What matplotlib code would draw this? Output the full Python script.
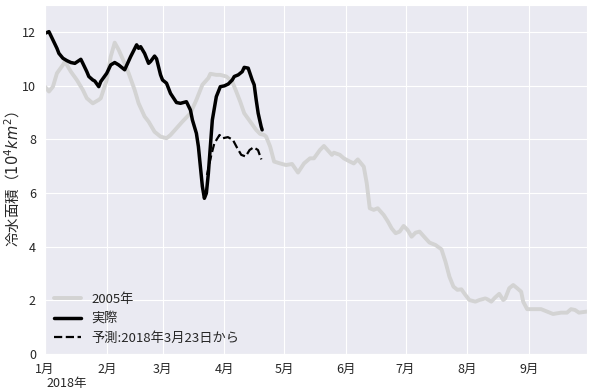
import pandas as pd
import matplotlib
matplotlib.use("Agg")
import matplotlib.pyplot as plt
import seaborn as sns

sns.set_style("darkgrid")
plt.rcParams["font.family"] = ["Noto Sans CJK JP", "DejaVu Sans"]

# days since Jan 1 (plotted on the 2018 calendar) and area in 10^4 km^2
days_2005 = [0, 2, 4, 6, 9, 10, 13, 16, 19, 21, 24, 27, 28, 31, 33, 35, 37, 40, 42,
             45, 47, 50, 52, 55, 58, 61, 63, 66, 69, 73, 76, 79, 82, 83, 86, 88, 91,
             94, 96, 98, 100, 103, 106, 108, 110, 111, 113, 115, 118, 121, 124, 127,
             130, 133, 135, 138, 140, 144, 145, 148, 150, 153, 155, 157, 160, 161.5,
             163, 165, 167, 170, 172, 174, 176, 178, 180, 182, 184, 186, 188, 191,
             193, 196, 199, 201, 203, 205, 207, 209, 211, 213, 216, 218, 221, 222,
             224, 226, 228, 230, 231, 233, 235, 237, 239, 240, 242, 245, 249, 252,
             255, 259, 262, 264, 266, 268, 272]
area_2005 = [9.96, 9.78, 9.96, 10.46, 10.77, 10.9, 10.52, 10.21, 9.84, 9.53, 9.34, 9.47,
             9.53, 10.21, 11.08, 11.6, 11.33, 10.83, 10.46, 9.84, 9.34, 8.85, 8.66,
             8.28, 8.1, 8.04, 8.16, 8.41, 8.66, 8.97, 9.47, 10.03, 10.28, 10.44, 10.4,
             10.4, 10.34, 10.15, 9.78, 9.4, 8.97, 8.66, 8.35, 8.2, 8.16, 8.1, 7.73,
             7.17, 7.1, 7.04, 7.08, 6.76, 7.1, 7.29, 7.29, 7.6, 7.75, 7.42, 7.5, 7.42,
             7.29, 7.17, 7.1, 7.25, 6.98, 6.36, 5.43, 5.37, 5.43, 5.18, 4.95, 4.68,
             4.5, 4.56, 4.77, 4.62, 4.37, 4.52, 4.56, 4.31, 4.15, 4.06, 3.9, 3.44,
             2.88, 2.51, 2.39, 2.41, 2.2, 2.01, 1.95, 2.01, 2.07, 2.04, 1.95, 2.11,
             2.24, 2.01, 2.07, 2.45, 2.57, 2.45, 2.32, 1.95, 1.67, 1.67, 1.67, 1.58,
             1.49, 1.54, 1.54, 1.67, 1.64, 1.54, 1.58]

days_actual = [0, 2, 4, 6, 7, 9, 11, 13, 15, 18, 19, 21, 22, 24, 25, 27, 28, 31, 33,
               35, 37, 40, 43, 46, 47, 48, 50, 52, 53, 55, 56, 58, 59, 61, 63, 66, 68,
               71, 73, 74, 76, 77, 78, 79, 80, 81, 82, 83, 84, 86, 88, 90, 92, 94, 95,
               97, 99, 100, 102, 104, 105, 106, 107, 108.5, 109]
area_actual = [11.95, 12.01, 11.7, 11.39, 11.2, 11.02, 10.93, 10.86, 10.83, 10.98, 10.83,
               10.52, 10.34, 10.21, 10.17, 9.96, 10.15, 10.46, 10.77, 10.86, 10.77,
               10.59, 11.08, 11.52, 11.39, 11.45, 11.2, 10.83, 10.9, 11.1, 11.0, 10.4,
               10.21, 10.09, 9.71, 9.37, 9.34, 9.4, 9.09, 8.72, 8.22, 7.73, 6.98, 6.24,
               5.8, 5.99, 6.73, 7.73, 8.72, 9.59, 9.96, 9.99, 10.06, 10.21, 10.34, 10.4,
               10.52, 10.68, 10.65, 10.21, 10.03, 9.47, 8.97, 8.47, 8.35]

days_forecast = [81.3, 83.5, 85, 87.6, 89.3, 91.8, 94.3, 96.3, 98.5, 100.7, 102.7,
                 104.7, 106.9, 108.6]
area_forecast = [6.67, 7.42, 7.85, 8.16, 8.04, 8.08, 7.98, 7.7, 7.42, 7.36, 7.6, 7.7,
                 7.6, 7.25]

month_labels = ["1月", "2月", "3月", "4月", "5月", "6月", "7月", "8月", "9月"]

start = pd.Timestamp("2018-01-01")


def to_dates(days):
    return start + pd.to_timedelta(days, unit="D")


fig = plt.figure(figsize=(5.91, 3.92), dpi=100)
ax = fig.add_axes([0.0761, 0.097, 0.917, 0.89])

ax.plot(to_dates(days_2005), area_2005, color="#d3d3d3", lw=2.8, label="2005年")
ax.plot(to_dates(days_actual), area_actual, color="black", lw=2.5, label="実際")
ax.plot(to_dates(days_forecast), area_forecast, color="black", lw=1.6, ls="--",
        label="予測:2018年3月23日から")

ax.set_xlim(start, pd.Timestamp("2018-09-30"))
ax.set_ylim(0, 13)
ax.set_yticks([0, 2, 4, 6, 8, 10, 12])
month_ticks = pd.date_range("2018-01-01", periods=9, freq="MS")
ax.set_xticks(month_ticks)
ax.set_xticklabels(month_labels)
ax.tick_params(labelsize=9, pad=3)
ax.text(0.003, -0.085, "2018年", transform=ax.transAxes, fontsize=9,
        ha="left", va="center")

ax.set_ylabel("冷水面積（$10^4km^2$）", fontsize=10.5)
ax.yaxis.set_label_coords(-0.043, 0.5)
ax.legend(loc="lower left", frameon=False, fontsize=9.5, handlelength=2.0,
          borderaxespad=0.3, labelspacing=0.5)

fig.savefig("out.png", dpi=100)
